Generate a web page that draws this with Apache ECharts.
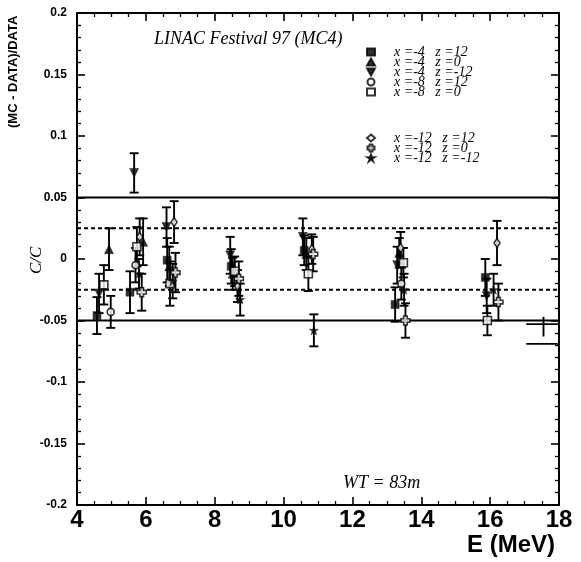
<!DOCTYPE html>
<html>
<head>
<meta charset="utf-8">
<script src="https://cdn.jsdelivr.net/npm/echarts@6/dist/echarts.min.js"></script>
<style>
  html, body { margin: 0; padding: 0; background: #fff; }
  #chart { width: 581px; height: 562px; }
</style>
</head>
<body>
<div id="chart"></div>
<script>
// Relative difference (MC - DATA)/DATA versus energy for each LINAC position.
// Each point: [E (MeV), value, error]
const seriesNames = [
  'x =-4   z =12', 'x =-4   z =0', 'x =-4   z =-12', 'x =-8   z =12', 'x =-8   z =0',
  'x =-12   z =12', 'x =-12   z =0', 'x =-12   z =-12'
];
const posA = [ // x=-4 z=12
  [4.58, -0.046, 0.015], [5.54, -0.027, 0.017], [6.62, -0.001, 0.018], [8.48, -0.006, 0.014],
  [10.60, 0.007, 0.012], [13.24, -0.037, 0.014], [15.86, -0.015, 0.015]
];
const posB = [ // x=-4 z=0
  [4.93, 0.008, 0.017], [5.92, 0.014, 0.019], [6.68, -0.006, 0.016], [8.52, -0.012, 0.013],
  [10.66, 0.004, 0.013], [13.36, 0.005, 0.012]
];
const posC = [ // x=-4 z=-12
  [4.64, -0.028, 0.016], [5.66, 0.070, 0.016], [6.60, 0.026, 0.016], [8.45, 0.003, 0.015],
  [10.56, 0.018, 0.015], [13.30, -0.005, 0.015], [15.90, -0.030, 0.014]
];
const posD = [ // x=-8 z=12
  [4.98, -0.043, 0.013], [5.70, -0.005, 0.014], [13.42, -0.020, 0.013]
];
const posE = [ // x=-8 z=0
  [4.78, -0.021, 0.016], [5.74, 0.010, 0.016], [6.70, -0.020, 0.018], [8.58, -0.010, 0.012],
  [10.72, -0.012, 0.014], [13.48, -0.003, 0.012], [15.92, -0.050, 0.012]
];
const posF = [ // x=-12 z=12
  [5.82, 0.018, 0.015], [6.82, 0.030, 0.017], [8.66, -0.022, 0.013], [10.82, 0.008, 0.012],
  [13.40, 0.009, 0.013], [16.20, 0.013, 0.018]
];
const posG = [ // x=-12 z=0
  [5.88, -0.027, 0.015], [6.86, -0.011, 0.016], [8.70, -0.016, 0.014], [10.86, 0.004, 0.014],
  [13.54, -0.050, 0.014], [16.24, -0.035, 0.015]
];
const posH = [ // x=-12 z=-12
  [5.80, -0.012, 0.012], [6.78, -0.018, 0.014], [8.74, -0.033, 0.013], [10.88, -0.058, 0.013],
  [13.50, -0.025, 0.013], [16.10, -0.025, 0.013]
];
const solidLevels = [0.05, -0.05];
const dottedLevels = [0.025, -0.025];
const xRange = [4, 18];
const yRange = [-0.2, 0.2];
// short stray segments at the right edge: [E start, E end, value]
const edgeMarks = [[17.05, 18, -0.053], [17.05, 18, -0.069]];
// small vertical stroke at the right edge: [E, value, half-length]
const edgeTick = [[17.55, -0.055, 0.008]];

const allData = [posA, posB, posC, posD, posE, posF, posG, posH];

const STAR = 'path://M5,0L6.2,3.6L10,3.6L6.9,5.8L8.1,9.5L5,7.2L1.9,9.5L3.1,5.8L0,3.6L3.8,3.6Z';
const DOWN = 'path://M0,0L10,0L5,9Z';
const CROSS = 'path://M3,0H7V3H10V7H7V10H3V7H0V3H3Z';
const markerStyles = [
  { symbol: 'rect', size: 8, open: false },
  { symbol: 'triangle', size: 9, open: false },
  { symbol: DOWN, size: 9, open: false },
  { symbol: 'circle', size: 7, open: true },
  { symbol: 'rect', size: 8, open: true },
  { symbol: 'diamond', size: [6, 9], open: true },
  { symbol: CROSS, size: 9, open: true },
  { symbol: STAR, size: 9, open: false }
];

const FONT_SANS = 'Liberation Sans, Arial, sans-serif';
const FONT_SERIF = 'Liberation Serif, Times New Roman, serif';

function errorBarSeries(data, capOnly) {
  return {
    type: 'custom',
    silent: true,
    z: 3,
    data: data,
    renderItem: function (params, api) {
      const e = api.value(0), v = api.value(1), d = api.value(2);
      const top = api.coord([e, v + d]);
      const bot = api.coord([e, v - d]);
      const w = capOnly ? 0 : 4.5;
      const st = { stroke: '#000', lineWidth: 1.9 };
      return {
        type: 'group',
        children: [
          { type: 'line', shape: { x1: top[0], y1: top[1], x2: bot[0], y2: bot[1] }, style: st },
          { type: 'line', shape: { x1: top[0] - w, y1: top[1], x2: top[0] + w, y2: top[1] }, style: st },
          { type: 'line', shape: { x1: bot[0] - w, y1: bot[1], x2: bot[0] + w, y2: bot[1] }, style: st }
        ]
      };
    }
  };
}

const series = [];
// reference levels
solidLevels.forEach(function (v) {
  series.push({ type: 'line', silent: true, symbol: 'none', z: 2,
    data: [[xRange[0], v], [xRange[1], v]],
    lineStyle: { color: '#000', width: 2 } });
});
dottedLevels.forEach(function (v) {
  series.push({ type: 'line', silent: true, symbol: 'none', z: 2,
    data: [[xRange[0], v], [xRange[1], v]],
    lineStyle: { color: '#000', width: 2, type: [4, 3] } });
});
edgeMarks.forEach(function (m) {
  series.push({ type: 'line', silent: true, symbol: 'none', z: 2,
    data: [[m[0], m[2]], [m[1], m[2]]],
    lineStyle: { color: '#000', width: 1.8 } });
});
series.push(errorBarSeries(edgeTick, true));
allData.forEach(function (d) { series.push(errorBarSeries(d, false)); });
allData.forEach(function (d, i) {
  const m = markerStyles[i];
  series.push({
    type: 'scatter',
    name: seriesNames[i],
    z: 4,
    data: d.map(function (p) { return [p[0], p[1]]; }),
    symbol: m.symbol,
    symbolSize: m.size,
    itemStyle: m.open
      ? { color: '#fff', borderColor: '#000', borderWidth: 1.6 }
      : { color: '#000', borderColor: '#000', borderWidth: 0.5 }
  });
});

function tickAxisX(pos, labels) {
  return {
    type: 'value', position: pos, min: xRange[0], max: xRange[1], interval: 2,
    axisLine: { show: true, onZero: false, lineStyle: { color: '#000', width: 2 } },
    axisTick: { show: true, inside: true, length: 8, lineStyle: { color: '#000', width: 1.6 } },
    minorTick: { show: true, splitNumber: 4, length: 4, lineStyle: { color: '#000', width: 1.3 } },
    splitLine: { show: false },
    axisLabel: { show: labels, color: '#000', fontFamily: FONT_SANS, fontWeight: 'bold', fontSize: 24, margin: 3 }
  };
}
function tickAxisY(pos, labels) {
  return {
    type: 'value', position: pos, min: yRange[0], max: yRange[1], interval: 0.05,
    axisLine: { show: true, onZero: false, lineStyle: { color: '#000', width: 2 } },
    axisTick: { show: true, inside: true, length: 8, lineStyle: { color: '#000', width: 1.6 } },
    minorTick: { show: true, splitNumber: 5, length: 4, lineStyle: { color: '#000', width: 1.3 } },
    splitLine: { show: false },
    axisLabel: { show: labels, color: '#000', fontFamily: FONT_SANS, fontWeight: 'bold', fontSize: 12, margin: 10,
      formatter: function (v) { return String(parseFloat(v.toFixed(2))); } }
  };
}

const legendBase = {
  orient: 'vertical', left: 366, itemGap: -4, itemWidth: 8, itemHeight: 7, padding: 0,
  selectedMode: false,
  textStyle: { fontFamily: FONT_SERIF, fontStyle: 'italic', fontSize: 14, color: '#000',
    padding: [0, 0, 0, 14] }
};

const chart = echarts.init(document.getElementById('chart'), null, { renderer: 'canvas' });
chart.setOption({
  animation: false,
  backgroundColor: '#fff',
  grid: { left: 77, right: 22, top: 13, bottom: 57, containLabel: false },
  xAxis: [tickAxisX('bottom', true), tickAxisX('top', false)],
  yAxis: [tickAxisY('left', true), tickAxisY('right', false)],
  legend: [
    Object.assign({}, legendBase, { top: 45, data: seriesNames.slice(0, 5) }),
    Object.assign({}, legendBase, { top: 131, data: seriesNames.slice(5) })
  ],
  title: {
    text: 'LINAC Festival 97 (MC4)', left: 154, top: 30, padding: 0,
    textStyle: { fontFamily: FONT_SERIF, fontStyle: 'italic', fontWeight: 'normal', fontSize: 18, color: '#000' }
  },
  graphic: [
    { type: 'text', left: 343, top: 474,
      style: { text: 'WT = 83m', font: 'italic 18px ' + FONT_SERIF, fill: '#000' } },
    { type: 'text', left: 467, top: 533,
      style: { text: 'E (MeV)', font: 'bold 24px ' + FONT_SANS, fill: '#000' } },
    { type: 'text', x: 7, y: 128, rotation: Math.PI / 2,
      style: { text: '(MC - DATA)/DATA', font: 'bold 13px ' + FONT_SANS, fill: '#000' } },
    { type: 'text', x: 28, y: 274, rotation: Math.PI / 2,
      style: { text: 'C/C', font: 'italic 17px ' + FONT_SERIF, fill: '#000' } }
  ],
  series: series
});
</script>
</body>
</html>
